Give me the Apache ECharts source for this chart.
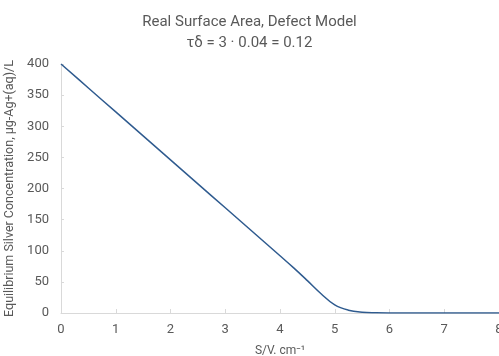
<!DOCTYPE html>
<html>
<head>
<meta charset="utf-8">
<script src="https://cdn.jsdelivr.net/npm/echarts@6/dist/echarts.min.js"></script>
<style>
  html, body { margin: 0; padding: 0; background: #fff; }
  #chart { width: 499px; height: 356px; }
</style>
</head>
<body>
<div id="chart"></div>
<script>
const titleLines = ['Real Surface Area, Defect Model', 'τδ = 3 · 0.04 = 0.12']
const xName = 'S/V. cm⁻¹'
const yName = 'Equilibrium Silver Concentration, μg-Ag+(aq)/L'

// S/V values and silver concentration
const sv = [0, 0.5, 1, 1.5, 2, 2.5, 3, 3.5, 4, 4.25, 4.5, 4.75, 5, 5.25, 5.5, 5.75, 6, 6.5, 7, 7.5, 8]
const conc = [400, 361.5, 323, 284.5, 246, 207.5, 169, 130.5, 92, 72.5, 52, 31, 13, 4.5, 1.2, 0.3, 0.05, 0, 0, 0, 0]

const chart = echarts.init(document.getElementById('chart'))
const gray = '#595959'
const font = 'Roboto, "Noto Sans", sans-serif'

const option = {
  animation: false,
  title: {
    text: titleLines.join('\n'),
    left: 'center',
    top: 7,
    textStyle: {
      color: gray,
      fontSize: 15,
      fontWeight: 'normal',
      fontFamily: font,
      lineHeight: 21,
    },
  },
  grid: { left: 61, right: 0, top: 64, bottom: 43, outerBoundsMode: 'none' },
  xAxis: {
    type: 'value',
    min: 0,
    max: 8,
    interval: 1,
    name: xName,
    nameLocation: 'middle',
    nameGap: 32,
    nameTextStyle: { color: gray, fontSize: 12, fontFamily: font },
    axisLine: { lineStyle: { color: '#d9d9d9', width: 1 } },
    axisTick: { show: true, inside: true, length: 4, lineStyle: { color: '#d9d9d9' } },
    axisLabel: { color: gray, fontSize: 13, fontFamily: font, margin: 10 },
    splitLine: { show: false },
  },
  yAxis: {
    type: 'value',
    min: 0,
    max: 400,
    interval: 50,
    name: yName,
    nameLocation: 'middle',
    nameGap: 43,
    nameTextStyle: { color: gray, fontSize: 12.5, fontFamily: font },
    axisLine: { show: true, lineStyle: { color: '#d9d9d9', width: 1 } },
    axisTick: { show: true, inside: true, length: 3, lineStyle: { color: '#d9d9d9' } },
    axisLabel: { color: gray, fontSize: 13, fontFamily: font, margin: 12 },
    splitLine: { show: false },
  },
  series: [
    {
      type: 'line',
      data: sv.map((x, i) => [x, conc[i]]),
      smooth: 0.4,
      showSymbol: false,
      lineStyle: { color: '#2f5b8f', width: 1.5 },
    },
  ],
}
chart.setOption(option)
</script>
</body>
</html>
